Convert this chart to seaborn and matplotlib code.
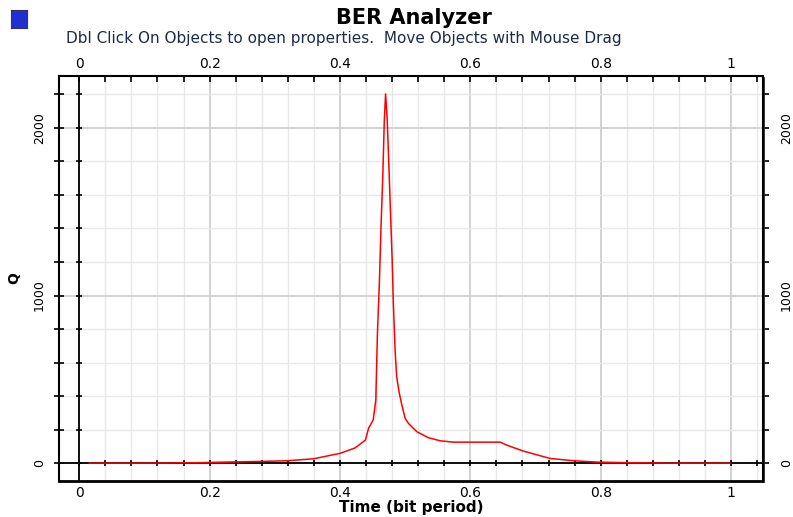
import numpy as np
import pandas as pd
import matplotlib
matplotlib.use("Agg")
import matplotlib.pyplot as plt
import seaborn as sns

# Valores
tempo = [0.015, 0.10, 0.18, 0.20, 0.28, 0.32, 0.36, 0.40, 0.423, 0.439, 0.444,
         0.451, 0.455, 0.455, 0.4575, 0.4606, 0.463, 0.4658, 0.468, 0.470,
         0.4724, 0.475, 0.4775, 0.480, 0.482, 0.4847, 0.487, 0.491, 0.495,
         0.500, 0.505, 0.518, 0.536, 0.554, 0.574, 0.600, 0.646, 0.656, 0.681,
         0.722, 0.758, 0.794, 0.850, 0.900, 1.000]
q = [0, 0, 2, 4, 10, 14, 26, 58, 90, 137, 209,
     257, 298, 455, 774, 1093, 1411, 1724, 2042, 2203,
     2058, 1779, 1500, 1222, 943, 664, 515, 418, 346,
     267, 237, 187, 151, 133, 125, 125, 125, 107, 72,
     28, 14, 6, 2, 0, 0]

xticks_major = [0, 0.2, 0.4, 0.6, 0.8, 1.0]
xtick_labels = ["0", "0.2", "0.4", "0.6", "0.8", "1"]
yticks_major = [0, 1000, 2000]
ytick_labels = ["0", "1000", "2000"]

df = pd.DataFrame({"tempo": tempo, "q": q})

sns.set_style("white")
plt.rcParams["font.family"] = ["DejaVu Sans"]
for k in ["text.color", "axes.labelcolor", "xtick.color", "ytick.color"]:
    plt.rcParams[k] = "black"

fig = plt.figure(figsize=(7.93, 5.17), dpi=100)
ax = fig.add_axes([0.0744, 0.0696, 0.8878, 0.7834])

# Grade
xminor = np.arange(-0.04, 1.06, 0.04)
yminor = np.arange(-200, 2401, 200)
ax.set_xticks(xminor, minor=True)
ax.set_yticks(yminor, minor=True)
ax.grid(which="minor", color="#e8e8e8", lw=1.0)
ax.grid(which="major", color="#d2d2d2", lw=1.4)
ax.set_axisbelow(True)

# Eixos em x=0 e y=0 com marcas
ax.axhline(0, color="black", lw=1.3, zorder=1)
ax.axvline(0, color="black", lw=1.3, zorder=1)
ax.plot(xminor, np.zeros_like(xminor), "|", color="black", ms=5, mew=1.2, zorder=1)
ax.plot(np.zeros_like(yminor), yminor, "_", color="black", ms=5, mew=1.2, zorder=1)

sns.lineplot(data=df, x="tempo", y="q", color="red", linewidth=1.1, ax=ax,
             zorder=3, sort=False)

ax.set_xlim(-0.031, 1.049)
ax.set_ylim(-107, 2310)
ax.set_xticks(xticks_major)
ax.set_xticklabels(xtick_labels)
ax.set_yticks(yticks_major)
ax.set_yticklabels(ytick_labels, rotation=90, va="center")

ax.tick_params(axis="x", which="both", direction="in", top=True,
               labeltop=True, length=4, width=1.2, labelsize=10)
ax.tick_params(axis="y", which="both", direction="inout", left=True,
               right=False, length=7, width=1.2, labelsize=9, pad=6)

# Eixo direito com marcas para fora
ax2 = ax.secondary_yaxis("right")
ax2.set_yticks(yticks_major)
ax2.set_yticklabels(ytick_labels, rotation=90, va="center")
ax2.set_yticks(yminor, minor=True)
ax2.yaxis.set_tick_params(which="both", direction="out", length=4, width=1.2,
                          labelsize=9, pad=8, left=False, right=True)
ax2.spines["right"].set_linewidth(2)
ax2.spines["right"].set_linestyle((0, (1, 1)))

for s in ax.spines.values():
    s.set_color("black")
    s.set_linewidth(1.5)
ax.spines["bottom"].set_linestyle((0, (1, 1)))
ax.spines["bottom"].set_linewidth(2)

ax.set_xlabel("Time (bit period)", fontsize=11, fontweight="bold", labelpad=0)
ax.set_ylabel("Q", fontsize=10, fontweight="bold", labelpad=8)

fig.text(0.522, 0.965, "BER Analyzer", ha="center", va="center",
         fontsize=15, fontweight="bold")
fig.text(0.434, 0.926, "Dbl Click On Objects to open properties.  Move Objects with Mouse Drag",
         ha="center", va="center", fontsize=11, color="#1e2a4a")

# Ícone no canto
icon = fig.add_axes([0.014, 0.945, 0.02, 0.035])
icon.set_facecolor("#2030d0")
icon.set_xticks([])
icon.set_yticks([])
for s in icon.spines.values():
    s.set_color("#333366")

plt.savefig("out.png", dpi=100)
plt.close()
